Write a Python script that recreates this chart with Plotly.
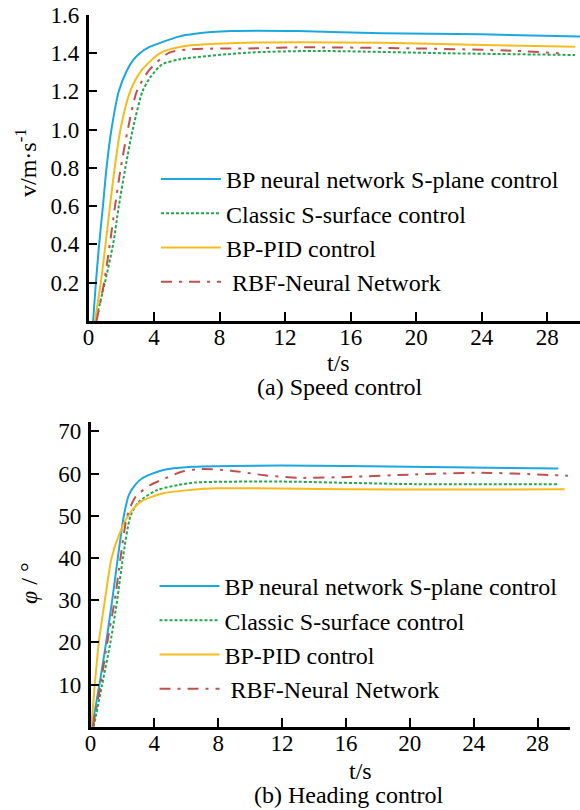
import plotly.graph_objects as go

# ---------------- data: (a) speed control ----------------
t_bp_a = [0.28, 0.45, 0.65, 0.88, 1.1, 1.4, 1.85, 2.3, 2.7, 3.15, 3.7, 4.3, 5.5, 6.5, 8.7, 12.8, 17.9, 24, 30]
v_bp_a = [0, 0.2, 0.4, 0.6, 0.8, 1.0, 1.2, 1.3, 1.36, 1.4, 1.43, 1.45, 1.485, 1.5, 1.514, 1.514, 1.502, 1.497, 1.485]

t_cl_a = [0.43, 1.0, 1.5, 1.85, 2.25, 2.7, 3.3, 3.8, 4.5, 5.6, 9.7, 13.8, 22, 29.7]
v_cl_a = [0, 0.2, 0.4, 0.6, 0.8, 1.0, 1.2, 1.276, 1.34, 1.367, 1.401, 1.41, 1.398, 1.389]

t_pid_a = [0.39, 0.75, 1.04, 1.31, 1.6, 1.95, 2.55, 3.25, 4.4, 5.9, 9.7, 17.9, 24, 29.7]
v_pid_a = [0, 0.2, 0.4, 0.6, 0.8, 1.0, 1.2, 1.31, 1.4, 1.436, 1.453, 1.453, 1.441, 1.432]

t_rbf_a = [0.49, 0.95, 1.3, 1.62, 1.97, 2.4, 2.95, 3.7, 4.9, 6.3, 10.3, 12.8, 19.6, 26, 28.7]
v_rbf_a = [0, 0.2, 0.4, 0.6, 0.8, 1.0, 1.2, 1.31, 1.4, 1.419, 1.424, 1.429, 1.424, 1.411, 1.398]

# ---------------- data: (b) heading control ----------------
t_bp_b = [0.1, 0.56, 0.98, 1.36, 1.71, 2.09, 2.4, 2.8, 3.24, 4.5, 6.4, 11.9, 20, 29.3]
p_bp_b = [0, 10, 20, 30, 40, 50, 54.9, 57.3, 58.9, 60.8, 61.6, 61.9, 61.6, 61.2]

t_cl_b = [0.2, 0.73, 1.25, 1.67, 2.03, 2.51, 3.03, 4.18, 5.5, 6.6, 11.9, 20.3, 29.3]
p_cl_b = [0, 10, 20, 30, 40, 50, 53.3, 56.1, 57.3, 57.9, 58.1, 57.5, 57.5]

t_pid_b = [0.05, 0.27, 0.52, 0.9, 1.32, 1.78, 2.36, 3.13, 4.5, 6.2, 8, 16, 24, 29.7]
p_pid_b = [0, 10, 20, 30, 40, 45.4, 50, 53.3, 55.3, 56.1, 56.5, 56.3, 56.2, 56.3]

t_rbf_b = [0.15, 0.63, 1.05, 1.52, 1.88, 2.3, 2.82, 3.76, 4.7, 5.75, 6.9, 8.8, 10.9, 13, 16.1, 20.3, 24.5, 26.5, 29.9]
p_rbf_b = [0, 10, 20, 30, 40, 50, 54.5, 57.3, 58.9, 60.5, 61.1, 60.7, 59.6, 59.0, 59.2, 59.8, 60.2, 60.0, 59.5]

names = ["BP neural network S-plane control", "Classic S-surface control",
         "BP-PID control", " RBF-Neural Network"]
x_ticks = [0, 4, 8, 12, 16, 20, 24, 28]
y_ticks_a = [0.2, 0.4, 0.6, 0.8, 1.0, 1.2, 1.4, 1.6]
y_ticks_b = [10, 20, 30, 40, 50, 60, 70]

colors = ["#1ba8de", "#22a84a", "#f6bb1c", "#c0504d"]
dashes = ["solid", "3px,2px", "solid", "11px,7px,3px,7px"]

W, H = 580, 810
FONT = "Liberation Serif"

fig = go.Figure()
series_a = [(t_bp_a, v_bp_a), (t_cl_a, v_cl_a), (t_pid_a, v_pid_a), (t_rbf_a, v_rbf_a)]
series_b = [(t_bp_b, p_bp_b), (t_cl_b, p_cl_b), (t_pid_b, p_pid_b), (t_rbf_b, p_rbf_b)]
for i, (t, v) in enumerate(series_a):
    fig.add_trace(go.Scatter(x=t, y=v, mode="lines", name=names[i],
                             line=dict(color=colors[i], width=2, dash=dashes[i], shape="spline", smoothing=0.7),
                             xaxis="x", yaxis="y", legend="legend"))
for i, (t, v) in enumerate(series_b):
    fig.add_trace(go.Scatter(x=t, y=v, mode="lines", name=names[i],
                             line=dict(color=colors[i], width=2, dash=dashes[i], shape="spline", smoothing=0.7),
                             xaxis="x2", yaxis="y2", legend="legend2"))

def px_x(x):
    return x / W

def px_y(y):
    return (H - y) / H

axis_common = dict(showline=True, linewidth=2.5, linecolor="black", ticks="inside",
                   ticklen=9, tickwidth=2, tickcolor="black", showgrid=False, zeroline=False,
                   automargin=False, tickfont=dict(family=FONT, size=23, color="black"))
x_common = dict(axis_common, ticklabelstandoff=-6)
y_common = dict(axis_common, ticklabelstandoff=2)

fig.update_layout(
    width=W, height=H, margin=dict(l=0, r=0, t=0, b=0, pad=0, autoexpand=False),
    paper_bgcolor="white", plot_bgcolor="white",
    xaxis=dict(domain=[px_x(88.5), 1.0], range=[0, 30], anchor="y", tickvals=x_ticks, **x_common),
    yaxis=dict(domain=[px_y(321), px_y(14.6)], range=[0, 1.6], anchor="x",
               tickvals=y_ticks_a, ticktext=["%.1f" % v for v in y_ticks_a], **y_common),
    xaxis2=dict(domain=[px_x(90.5), px_x(569.5)], range=[0, 30], anchor="y2", tickvals=x_ticks, **x_common),
    yaxis2=dict(domain=[px_y(726.7), px_y(421.7)], range=[0, 72.3], anchor="x2",
                tickvals=y_ticks_b, **y_common),
    legend=dict(x=px_x(156), y=px_y(157), xanchor="left", yanchor="top", bgcolor="rgba(0,0,0,0)",
                font=dict(family=FONT, size=24, color="black"), itemwidth=60, tracegroupgap=0),
    legend2=dict(x=px_x(154.5), y=px_y(564), xanchor="left", yanchor="top", bgcolor="rgba(0,0,0,0)",
                 font=dict(family=FONT, size=24, color="black"), itemwidth=60, tracegroupgap=0),
    font=dict(family=FONT, size=24, color="black"),
)

ann_font = dict(family=FONT, size=24, color="black")
annotations = [
    dict(text="t/s", x=px_x(338), y=px_y(363)),
    dict(text="(a) Speed control", x=px_x(340), y=px_y(387)),
    dict(text="t/s", x=px_x(360), y=px_y(771)),
    dict(text="(b) Heading control", x=px_x(349), y=px_y(795)),
    dict(text="v/m·s<sup>-1</sup>", x=px_x(26), y=px_y(163), textangle=-90),
    dict(text="<i>φ</i> / °", x=px_x(29), y=px_y(583), textangle=-90),
]
for a in annotations:
    fig.add_annotation(xref="paper", yref="paper", showarrow=False, xanchor="center", yanchor="middle",
                       font=ann_font, **a)

fig.write_html("out.html")
